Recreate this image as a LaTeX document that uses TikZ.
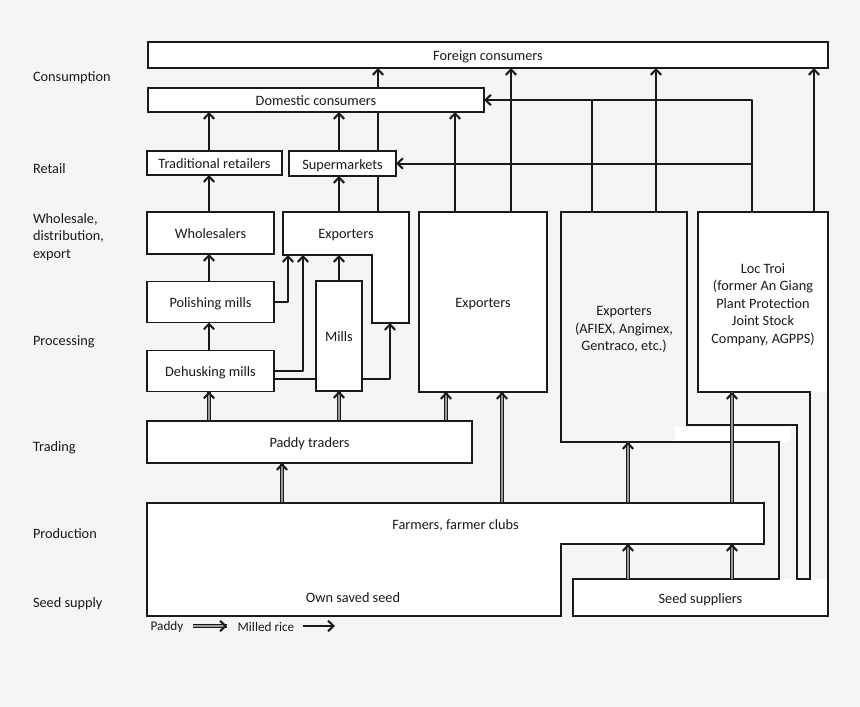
\documentclass[tikz,border=0pt]{standalone}
\usepackage{fontspec}
\setmainfont{Carlito}
\usetikzlibrary{arrows.meta,decorations.markings}
\definecolor{bgc}{HTML}{F5F5F5}
\definecolor{ink}{HTML}{1A1A1A}
\definecolor{paddygray}{HTML}{9A9A9A}
\newcommand{\mainsz}{\fontsize{14.3}{17.5}\selectfont}
\newcommand{\legsz}{\fontsize{13.2}{16}\selectfont}
\pgfdeclarelayer{back}
\pgfdeclarelayer{conn}
\pgfsetlayers{back,conn,main}
\begin{document}
\begin{tikzpicture}[x=1pt,y=-1pt,
  box/.style={draw=ink, fill=white, line width=1.8pt, inner sep=0pt, outer sep=0pt, font=\mainsz, text=ink, text height=11pt, text depth=0pt},
  ghost/.style={inner sep=0pt, outer sep=0pt},
  txt/.style={inner sep=0pt, outer sep=0pt, font=\mainsz, text=ink, align=center},
  lbl/.style={font=\mainsz, text=ink, inner sep=0pt, outer sep=0pt, anchor=west, align=left},
  milled/.style={draw=ink, line width=2pt, line join=round, -{Straight Barb[length=5.5pt,width=10.5pt]}},
  plain/.style={draw=ink, line width=2pt, line join=round},
  paddy/.style={draw=paddygray, line width=2.2pt, preaction={draw=ink, line width=4.8pt},
     postaction={decorate, decoration={markings, mark=at position 1 with {\arrow[draw=ink, line width=2pt]{Straight Barb[length=5.5pt,width=10.5pt]}}}}},
  outline/.style={draw=ink, line width=1.8pt, line join=miter},
]
\useasboundingbox (0,0) rectangle (860,707);
\begin{pgfonlayer}{back}
\fill[bgc] (0,0) rectangle (860,707);
% combined exporters / Loc Troi / seed suppliers shape
\fill[white] (698,212) rectangle (828,392);
\fill[white] (573,579) rectangle (828,616);
\fill[white] (675,427) rectangle (790,442);
\draw[outline] (561,212) -- (687,212) -- (687,425) -- (797,425) -- (797,579) -- (810,579) -- (810,392) -- (698,392) -- (698,212) -- (828,212) -- (828,616) -- (573,616) -- (573,579) -- (779,579) -- (779,442) -- (561,442) -- cycle;
\end{pgfonlayer}

% column / row guides
\coordinate (cA) at (209,0);
\coordinate (cB) at (339,0);
\coordinate (cC) at (378,0);
\coordinate (cD) at (455,0);
\coordinate (cE) at (511,0);
\coordinate (cF) at (592,0);
\coordinate (cG) at (656,0);
\coordinate (cH) at (752,0);
\coordinate (cI) at (814,0);
\coordinate (cJ) at (446,0);
\coordinate (cK) at (502,0);
\coordinate (cL) at (282,0);
\coordinate (cM) at (628,0);
\coordinate (cN) at (732,0);
\coordinate (cP) at (288,0);
\coordinate (cQ) at (303,0);
\coordinate (cR) at (390,0);
\coordinate (rMill) at (0,379);

% boxes
\node[box, minimum width=680pt, minimum height=26pt] (foreign) at (488,55) {Foreign consumers};
\node[box, minimum width=336pt, minimum height=24pt] (domestic) at (316,100) {Domestic consumers};
\node[box, minimum width=135pt, minimum height=24pt] (tradret) at (214.5,163) {Traditional retailers};
\node[box, minimum width=107pt, minimum height=25pt] (supermk) at (342.5,163.5) {Supermarkets};
\node[box, minimum width=127pt, minimum height=42pt] (wholesale) at (210.5,233) {Wholesalers};
\node[box, minimum width=127pt, minimum height=41pt] (polish) at (210.5,302) {Polishing mills};
\node[box, minimum width=127pt, minimum height=41pt] (dehusk) at (210.5,371) {Dehusking mills};
\node[box, minimum width=46pt, minimum height=110pt] (mills) at (339,336) {Mills};
\node[box, minimum width=128pt, minimum height=180pt] (bigexp) at (483,302) {Exporters};
\node[box, minimum width=325pt, minimum height=42pt] (traders) at (309.5,442) {Paddy traders};

% L-shaped exporters
\draw[outline, fill=white] (283,212) -- (409,212) -- (409,323) -- (372,323) -- (372,255) -- (283,255) -- cycle;
\node[ghost, minimum width=126pt, minimum height=43pt] (expsm) at (346,233.5) {};
\node[txt] (expsmTxt) at (346,235.5) {Exporters};
\node[ghost, minimum width=37pt, minimum height=68pt] (exparm) at (390.5,289) {};

% farmers shape
\draw[outline, fill=white] (147,503) -- (764,503) -- (764,544) -- (561,544) -- (561,616) -- (147,616) -- cycle;
\node[ghost, minimum width=617pt, minimum height=41pt] (farmers) at (455.5,523.5) {};
\node[txt] (farmersTxt) at (455.5,525.5) {Farmers, farmer clubs};
\node[txt] (ownseed) at (353,597.5) {Own saved seed};

% combined shape anchors and texts
\node[ghost, minimum width=126pt, minimum height=230pt] (afiex) at (624,327) {};
\node[txt] (afiexTxt) at (624,329.5) {Exporters\\(AFIEX, Angimex,\\Gentraco, etc.)};
\node[ghost, minimum width=130pt, minimum height=180pt] (loctroi) at (763,302) {};
\node[txt] (loctroiTxt) at (763,304.5) {Loc Troi\\(former An Giang\\Plant Protection\\Joint Stock\\Company, AGPPS)};
\node[ghost, minimum width=255pt, minimum height=37pt] (seedsup) at (700.5,597.5) {};
\node[txt] (seedsupTxt) at (700.5,599.5) {Seed suppliers};

% stage labels
\node[lbl] (lcons) at (33,78) {Consumption};
\node[lbl] (lret) at (33,168.5) {Retail};
\node[lbl] (lwhole) at (33,237) {Wholesale,\\distribution,\\export};
\node[lbl] (lproc) at (33,341.5) {Processing};
\node[lbl] (ltrad) at (33,447.5) {Trading};
\node[lbl] (lprod) at (33,533.5) {Production};
\node[lbl] (lseed) at (33,603.5) {Seed supply};

% legend
\node[lbl, font=\legsz, anchor=center] (legpaddy) at (167,627) {Paddy};
\coordinate (lp1) at (193,626);
\coordinate (lp2) at (227,626);
\node[lbl, font=\legsz, anchor=center] (legmilled) at (266,627) {Milled rice};
\coordinate (lm1) at (303,626);
\coordinate (lm2) at (335,626);

\begin{pgfonlayer}{conn}
% milled rice flows
\draw[milled] (tradret.north -| cA) -- (domestic.south -| cA);
\draw[milled] (wholesale.north -| cA) -- (tradret.south -| cA);
\draw[milled] (polish.north -| cA) -- (wholesale.south -| cA);
\draw[milled] (dehusk.north -| cA) -- (polish.south -| cA);
\draw[milled] (supermk.north -| cB) -- (domestic.south -| cB);
\draw[milled] (expsm.north -| cB) -- (supermk.south -| cB);
\draw[milled] (expsm.north -| cC) -- (foreign.south -| cC);
\draw[milled] (bigexp.north -| cD) -- (domestic.south -| cD);
\draw[milled] (bigexp.north -| cE) -- (foreign.south -| cE);
\draw[plain] (afiex.north -| cF) -- (domestic.east -| cF);
\draw[milled] (afiex.north -| cG) -- (foreign.south -| cG);
\draw[milled] (loctroi.north -| cH) |- (domestic.east);
\draw[milled] (supermk.east -| cH) -- (supermk.east);
\draw[milled] (loctroi.north -| cI) -- (foreign.south -| cI);
\draw[milled] (polish.east) -| (expsm.south -| cP);
\draw[milled] (dehusk.east) -| (expsm.south -| cQ);
\draw[plain] (dehusk.east |- rMill) -- (mills.west |- rMill);
\draw[milled] (mills.east |- rMill) -| (exparm.south -| cR);
\draw[milled] (mills.north -| cB) -- (expsm.south -| cB);
% paddy flows
\draw[paddy] (traders.north -| cA) -- (dehusk.south -| cA);
\draw[paddy] (traders.north -| cB) -- (mills.south -| cB);
\draw[paddy] (traders.north -| cJ) -- (bigexp.south -| cJ);
\draw[paddy] (farmers.north -| cK) -- (bigexp.south -| cK);
\draw[paddy] (farmers.north -| cL) -- (traders.south -| cL);
\draw[paddy] (farmers.north -| cM) -- (afiex.south -| cM);
\draw[paddy] (farmers.north -| cN) -- (loctroi.south -| cN);
\draw[paddy] (seedsup.north -| cM) -- (farmers.south -| cM);
\draw[paddy] (seedsup.north -| cN) -- (farmers.south -| cN);
% legend arrows
\draw[paddy] (lp1) -- (lp2);
\draw[milled] (lm1) -- (lm2);
\end{pgfonlayer}
\end{tikzpicture}
\end{document}
